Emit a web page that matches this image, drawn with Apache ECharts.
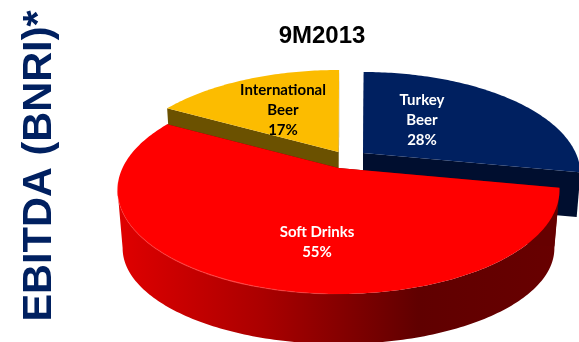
<!DOCTYPE html>
<html>
<head>
<meta charset="utf-8">
<style>html,body{margin:0;padding:0;background:#fff}#chart{width:579px;height:342px}</style>
<script src="https://cdn.jsdelivr.net/npm/echarts@6/dist/echarts.min.js"></script>
</head>
<body>
<div id="chart"></div>
<script>
// EBITDA split by business line, drawn as an exploded perspective pie.
const categories = ['Turkey Beer', 'Soft Drinks', 'International Beer'];
const shares = [28, 55, 17];
const chartTitle = '9M2013';
const sideTitle = 'EBITDA (BNRI)*';

// Slice appearance and explode offsets.
const sliceStyle = [
  { top: '#002060', wall: '#000e2f', side: '#000e2f', dx: 24.5, dy: -15, depth: 0.76, scale: 0.985, layer: 1,
    text: '#ffffff', lines: ['Turkey', 'Beer'], lx: 422, ly: 120 },
  { top: '#ff0000', wall: '#660000', dx: 0, dy: 0, depth: 1, scale: 1, layer: 7,
    side: { type: 'linear', x: 0, y: 0, x2: 1, y2: 0, colorStops: [
      { offset: 0, color: '#e00000' }, { offset: 0.33, color: '#aa0000' },
      { offset: 0.68, color: '#600000' }, { offset: 1, color: '#680000' }] },
    text: '#ffffff', lines: ['Soft Drinks'], lx: 317, ly: 242 },
  { top: '#fcbc00', wall: '#6b5100', side: '#6b5100', dx: 0, dy: -16, depth: 1, scale: 1, layer: 4,
    text: '#000000', lines: ['International', 'Beer'], lx: 283, ly: 110 }
];

// Perspective disc: the top plane and the base plane of the pie.
const START_ANGLE = 0.2;
const CX = 338.5, PERSPECTIVE = 0.2115;
const topPlane = { rx: 216, y0: 168, ry: 99.35 };
const basePlane = { rx: 211, y0: 228, ry: 91.5 };
// The outer rim only shows between the two widest points of the disc.
const RIM_FROM = 102, RIM_TO = 258;

function project(theta, radius, plane, s) {
  const u = Math.sin(theta) * radius * s.scale, v = -Math.cos(theta) * radius * s.scale;
  const w = 1 - PERSPECTIVE * v;
  return [CX + plane.rx * u / w, plane.y0 + plane.ry * v / w];
}
function projectAt(theta, radius, level, s) {
  const a = project(theta, radius, topPlane, s), b = project(theta, radius, basePlane, s);
  return [a[0] + (b[0] - a[0]) * level * s.depth + s.dx, a[1] + (b[1] - a[1]) * level * s.depth + s.dy];
}
function arc(from, to, level, s) {
  const pts = [], n = Math.ceil(Math.abs(to - from) / (Math.PI / 180));
  for (let i = 0; i <= n; i++) pts.push(projectAt(from + (to - from) * i / n, 1, level, s));
  return pts;
}
const total = shares.reduce((a, b) => a + b, 0);

function renderSlice(params, api) {
  const i = params.dataIndex, s = sliceStyle[i];
  let before = 0;
  for (let j = 0; j < i; j++) before += shares[j];
  const rad = d => d * Math.PI / 180;
  const d0 = START_ANGLE + before / total * 360;
  const d1 = START_ANGLE + (before + api.value(1)) / total * 360;
  const a0 = rad(d0), a1 = rad(d1);
  const poly = (points, fill, z2) => ({ type: 'polygon', shape: { points }, style: { fill }, z2 });
  const wall = a => [projectAt(a, 0, 0, s), projectAt(a, 1, 0, s), projectAt(a, 1, 1, s), projectAt(a, 0, 1, s)];

  const children = [];
  const rimFrom = Math.max(d0, RIM_FROM), rimTo = Math.min(d1, RIM_TO);
  if (rimTo > rimFrom) {
    children.push(poly(arc(rad(rimFrom), rad(rimTo), 0, s).concat(arc(rad(rimTo), rad(rimFrom), 1, s)), s.side, s.layer));
  }
  children.push(
    poly(wall(a0), s.wall, s.layer + 1),
    poly(wall(a1), s.wall, s.layer + 1),
    poly([projectAt(a0, 0, 0, s)].concat(arc(a0, a1, 0, s)), s.top, s.layer + 2)
  );
  // Soft highlight along the front rim of the largest slice.
  if (api.value(1) === Math.max.apply(null, shares)) {
    children.push({
      type: 'polyline', shape: { points: arc(rad(178), rad(262), 0, s) }, z2: s.layer + 2,
      style: { fill: null, lineWidth: 1.2, stroke: { type: 'linear', x: 1, y: 0, x2: 0, y2: 0, colorStops: [
        { offset: 0, color: 'rgba(255,70,70,0)' }, { offset: 0.5, color: 'rgba(255,70,70,0.9)' }, { offset: 1, color: 'rgba(255,70,70,0.2)' }] } }
    });
  }
  children.push({
    type: 'text', z2: 20,
    style: {
      x: s.lx, y: s.ly, text: s.lines.concat([api.value(1) + '%']).join('\n'),
      fill: s.text, align: 'center', verticalAlign: 'middle',
      font: 'bold 15px Lato, "Open Sans", sans-serif', lineHeight: 20
    }
  });
  return { type: 'group', children };
}

const chart = echarts.init(document.getElementById('chart'), null, { renderer: 'canvas' });
chart.setOption({
  animation: false,
  backgroundColor: '#ffffff',
  title: {
    text: chartTitle, left: 317, top: 19, textAlign: 'center',
    textStyle: { fontFamily: '"Liberation Sans", Arial, sans-serif', fontWeight: 'bold', fontSize: 24, color: '#000000' }
  },
  graphic: [{
    type: 'text', rotation: Math.PI / 2, x: 40, y: 166, z: 5,
    style: {
      text: sideTitle, align: 'center', verticalAlign: 'middle', fill: '#002060',
      font: 'bold 41.5px "Liberation Sans", Arial, sans-serif'
    }
  }],
  series: [{
    type: 'custom', coordinateSystem: 'none', renderItem: renderSlice,
    encode: { itemName: 0, value: 1 },
    data: categories.map((name, i) => [name, shares[i]])
  }]
});
</script>
</body>
</html>
